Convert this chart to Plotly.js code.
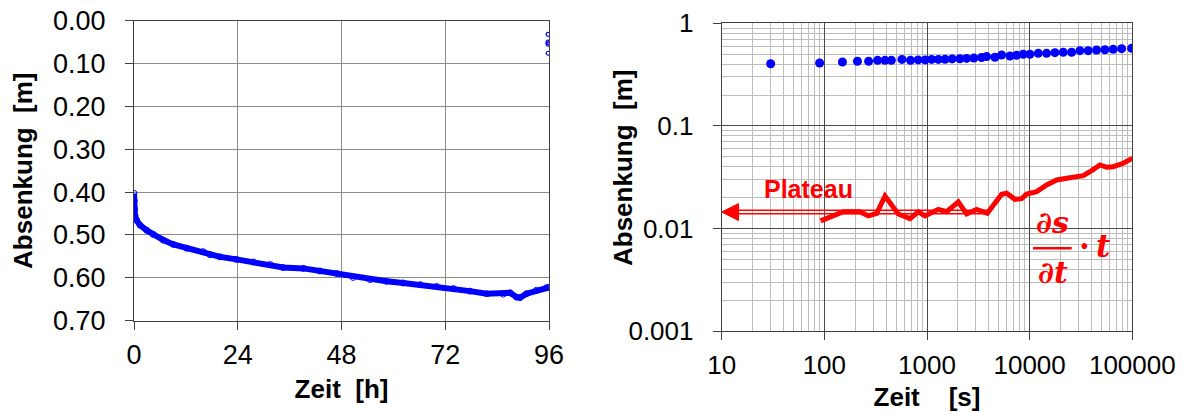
<!DOCTYPE html>
<html>
<head>
<meta charset="utf-8">
<script src="https://cdn.plot.ly/plotly-3.0.1.min.js"></script>
<style>
  html, body { margin: 0; padding: 0; background: #ffffff; }
  #chart { width: 1185px; height: 412px; }
</style>
</head>
<body>
<div id="chart"></div>
<script>
// ---------- Left chart: drawdown vs time (hours), linear ----------
var hoursLeft = [0, 0.05, 0.12, 0.23, 0.62, 1.39, 2.93, 4.47, 6.78, 9.1, 12.2, 16.0, 17.6, 19.9, 23.7,
  27.6, 31.5, 34.5, 39.2, 43.0, 46.9, 50.7, 54.6, 58.4, 62.3, 66.2, 70.0, 73.9, 77.7, 81.6,
  85.4, 87.0, 88.5, 89.3, 90.8, 93.1, 95.4, 96.0];
var drawdownLeft = [0.403, 0.42, 0.44, 0.455, 0.466, 0.477, 0.489, 0.499, 0.512, 0.522, 0.531, 0.539, 0.546, 0.551, 0.557,
  0.563, 0.569, 0.576, 0.578, 0.584, 0.590, 0.599, 0.604, 0.608, 0.612, 0.616, 0.620, 0.625, 0.631, 0.637,
  0.638, 0.635, 0.645, 0.646, 0.637, 0.629, 0.623, 0.622];
// recovery points at the end of the test
var hoursRecovery = [95.8, 95.8, 95.8, 95.8, 95.8];
var drawdownRecovery = [0.032, 0.050, 0.052, 0.055, 0.076];
var xTicksLeft = [0, 24, 48, 72, 96];

// ---------- Right chart: log-log diagnostic plot ----------
var secondsRight = [30, 90, 150, 210, 270, 330, 390, 450, 570, 690, 820, 960, 1110, 1290, 1500, 1760,
  2090, 2430, 2860, 3400, 3810, 4590, 5330, 6430, 7460, 8660, 10070, 12130, 14620, 17620, 21230,
  25640, 30900, 37240, 44870, 54080, 65170, 78640, 98400];
var drawdownRight = [0.404, 0.41, 0.42, 0.427, 0.427, 0.436, 0.436, 0.436, 0.445, 0.436, 0.44, 0.44, 0.445, 0.445, 0.447, 0.45,
  0.452, 0.455, 0.458, 0.464, 0.474, 0.467, 0.491, 0.48, 0.488, 0.499, 0.499, 0.51, 0.51, 0.518, 0.522,
  0.522, 0.541, 0.541, 0.55, 0.553, 0.558, 0.566, 0.57];
var secondsDeriv = [92, 153, 222, 268, 324, 390, 525, 683, 822, 955, 1288, 1552, 2018, 2433, 3046, 3866,
  5337, 5972, 7192, 8356, 9350, 11700, 14640, 18330, 22930, 28690, 33270, 40150, 48400, 56250, 65200, 81600, 100000];
var derivative = [0.0119, 0.0146, 0.0146, 0.0133, 0.0141, 0.0208, 0.0139, 0.0125, 0.0146, 0.0133, 0.0154, 0.0146, 0.0182, 0.0139, 0.0154, 0.0141,
  0.0216, 0.0221, 0.0193, 0.0196, 0.0217, 0.0229, 0.0266, 0.0298, 0.0309, 0.0321, 0.0328, 0.0367, 0.0417, 0.0396, 0.0401, 0.0433, 0.0484];
var xTicksRight = [10, 100, 1000, 10000, 100000];
var yTicksRight = [0.001, 0.01, 0.1, 1];
var PLATEAU = 0.0145;       // plateau level of the derivative
var ARROW_START = 10;       // arrow tip (left edge)
var ARROW_HEAD_END = 14.6;  // base of arrow head
var ARROW_END = 3900;       // end of arrow shaft

var W = 1185, H = 412;
function px(x) { return x / W; }
function py(y) { return 1 - y / H; }

var FONT = 'Liberation Sans, Arial, sans-serif';
var BLUE = '#0000ff';
var RED = '#ff0000';

var traces = [
  { x: hoursLeft, y: drawdownLeft, xaxis: 'x', yaxis: 'y', type: 'scatter', mode: 'lines+markers',
    line: { color: BLUE, width: 6 }, marker: { symbol: 'circle-open', size: 6, color: BLUE, line: { width: 1 } },
    hoverinfo: 'skip', showlegend: false },
  { x: hoursRecovery, y: drawdownRecovery, xaxis: 'x', yaxis: 'y', type: 'scatter', mode: 'markers',
    marker: { symbol: 'circle-open', size: 4, color: BLUE, line: { width: 1.2 } },
    hoverinfo: 'skip', showlegend: false },
  { x: secondsRight, y: drawdownRight, xaxis: 'x2', yaxis: 'y2', type: 'scatter', mode: 'markers',
    marker: { symbol: 'circle', size: 9, color: BLUE }, hoverinfo: 'skip', showlegend: false },
  { x: secondsDeriv, y: derivative, xaxis: 'x2', yaxis: 'y2', type: 'scatter', mode: 'lines',
    line: { color: RED, width: 5 }, hoverinfo: 'skip', showlegend: false },
  // Plateau arrow: double shaft + head
  { x: [ARROW_HEAD_END, ARROW_END], y: [PLATEAU * 1.04, PLATEAU * 1.04], xaxis: 'x2', yaxis: 'y2', type: 'scatter', mode: 'lines',
    line: { color: RED, width: 1.5 }, hoverinfo: 'skip', showlegend: false },
  { x: [ARROW_HEAD_END, ARROW_END], y: [PLATEAU / 1.04, PLATEAU / 1.04], xaxis: 'x2', yaxis: 'y2', type: 'scatter', mode: 'lines',
    line: { color: RED, width: 1.5 }, hoverinfo: 'skip', showlegend: false },
  { x: [ARROW_START, ARROW_HEAD_END, ARROW_HEAD_END, ARROW_START], y: [PLATEAU, PLATEAU * 1.21, PLATEAU / 1.21, PLATEAU],
    xaxis: 'x2', yaxis: 'y2', type: 'scatter', mode: 'lines', fill: 'toself', fillcolor: RED,
    line: { color: RED, width: 1 }, hoverinfo: 'skip', showlegend: false }
];

var axisCommon = {
  showline: true, linecolor: '#404040', linewidth: 1, mirror: true,
  ticks: 'outside', ticklen: 8, tickcolor: '#404040', tickwidth: 1,
  zeroline: false, fixedrange: true
};

var layout = {
  width: W, height: H,
  margin: { l: 0, r: 0, t: 0, b: 0, pad: 0 },
  paper_bgcolor: '#ffffff', plot_bgcolor: '#ffffff',
  font: { family: FONT, color: '#000000' },
  showlegend: false,
  xaxis: Object.assign({}, axisCommon, {
    domain: [px(134), px(549)], anchor: 'y',
    range: [0, 96], tickvals: xTicksLeft, ticktext: xTicksLeft.map(String),
    showgrid: true, gridcolor: '#8c8c8c', gridwidth: 1,
    tickfont: { size: 27, family: FONT },
    ticklabelstandoff: 2,
    title: { text: '<b>Zeit\u00a0\u00a0[h]</b>', font: { size: 26, family: FONT }, standoff: 10 }
  }),
  yaxis: Object.assign({}, axisCommon, {
    domain: [py(320.7), py(20.7)], anchor: 'x',
    range: [0.7, 0], dtick: 0.1, tick0: 0, tickformat: '.2f',
    showgrid: true, gridcolor: '#8c8c8c', gridwidth: 1,
    tickfont: { size: 27, family: FONT },
    ticklabelstandoff: 14,
    title: { text: '<b>Absenkung\u00a0\u00a0[m]</b>', font: { size: 26, family: FONT }, standoff: 12 }
  }),
  xaxis2: Object.assign({}, axisCommon, {
    domain: [px(721.7), px(1132.3)], anchor: 'y2', type: 'log',
    range: [1, 5], tickvals: xTicksRight, ticktext: xTicksRight.map(String),
    showgrid: true, gridcolor: '#4a4a4a', gridwidth: 1,
    minor: { dtick: 'D1', showgrid: true, gridcolor: '#bdbdbd', gridwidth: 1, ticks: '' },
    tickfont: { size: 26, family: FONT },
    ticklabelstandoff: 2,
    title: { text: '<b>Zeit\u00a0\u00a0\u00a0\u00a0[s]</b>', font: { size: 26, family: FONT }, standoff: 10 }
  }),
  yaxis2: Object.assign({}, axisCommon, {
    domain: [py(331.3), py(23.3)], anchor: 'x2', type: 'log',
    range: [-3, 0], tickvals: yTicksRight, ticktext: ['0.001', '0.01', '0.1', '1'],
    showgrid: true, gridcolor: '#4a4a4a', gridwidth: 1,
    minor: { dtick: 'D1', showgrid: true, gridcolor: '#bdbdbd', gridwidth: 1, ticks: '' },
    tickfont: { size: 26, family: FONT },
    ticklabelstandoff: 14
  }),
  shapes: [
    { type: 'line', xref: 'paper', yref: 'paper', x0: px(1033), x1: px(1071.7), y0: py(248.3), y1: py(248.3),
      line: { color: RED, width: 2.5 } }
  ],
  annotations: [
    // right y-axis title (placed as annotation to match the original position)
    { xref: 'paper', yref: 'paper', x: px(623), y: py(168), text: '<b>Absenkung\u00a0\u00a0[m]</b>', showarrow: false,
      textangle: -90, font: { size: 26, family: FONT, color: '#000000' }, xanchor: 'center', yanchor: 'middle' },
    { xref: 'paper', yref: 'paper', x: px(808.3), y: py(189), text: '<b>Plateau</b>', showarrow: false,
      font: { size: 25, family: FONT, color: RED }, xanchor: 'center', yanchor: 'middle' },
    { xref: 'paper', yref: 'paper', x: px(1052.5), y: py(222), text: '<b><i>\u2202s</i></b>', showarrow: false,
      font: { size: 30, family: 'DejaVu Serif, serif', color: RED }, xanchor: 'center', yanchor: 'middle' },
    { xref: 'paper', yref: 'paper', x: px(1052.5), y: py(272), text: '<b><i>\u2202t</i></b>', showarrow: false,
      font: { size: 30, family: 'DejaVu Serif, serif', color: RED }, xanchor: 'center', yanchor: 'middle' },
    { xref: 'paper', yref: 'paper', x: px(1077), y: py(246), text: '<b>\u00b7\u2009<i>t</i></b>', showarrow: false,
      font: { size: 31, family: 'DejaVu Serif, serif', color: RED }, xanchor: 'left', yanchor: 'middle' }
  ]
};

Plotly.newPlot('chart', traces, layout, { staticPlot: true, displayModeBar: false });
</script>
</body>
</html>
